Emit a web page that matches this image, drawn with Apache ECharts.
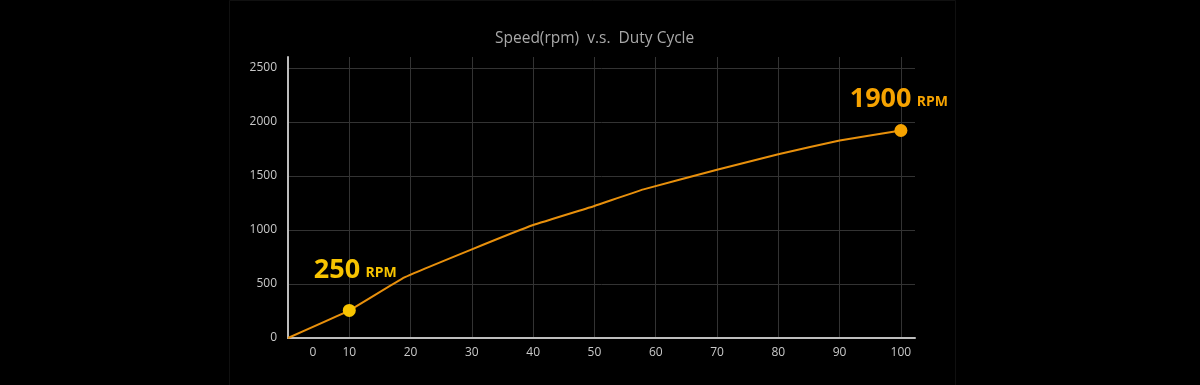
<!DOCTYPE html>
<html>
<head>
<meta charset="utf-8">
<script src="https://cdn.jsdelivr.net/npm/echarts@6/dist/echarts.min.js"></script>
<style>
html,body{margin:0;padding:0;background:#000;}
#chart{width:1200px;height:385px;}
</style>
</head>
<body>
<div id="chart"></div>
<script>
// Data
var dutyCycle = [0, 10, 19, 30, 40, 50, 58, 70, 80, 90, 100];
var speedRpm  = [0, 255, 560, 820, 1045, 1222, 1375, 1556, 1700, 1827, 1920];
var highlightIndex = [1, 10];
var highlightText  = ['250', '1900'];
var highlightColor = ['#f8c400', '#f6a300'];
var xTicks = [0, 10, 20, 30, 40, 50, 60, 70, 80, 90, 100];
var yTicks = [0, 500, 1000, 1500, 2000, 2500];
var titleText = 'Speed(rpm)  v.s.  Duty Cycle';

var lineData = dutyCycle.map(function (x, i) { return [x, speedRpm[i]]; });
var pointData = highlightIndex.map(function (idx, k) {
  return {
    value: [dutyCycle[idx], speedRpm[idx]],
    itemStyle: { color: highlightColor[k], opacity: 1 },
    label: {
      formatter: '{a|' + highlightText[k] + '} {b|RPM}',
      rich: {
        a: { fontSize: 27, fontWeight: 'bold', color: highlightColor[k], fontFamily: 'Open Sans' },
        b: { fontSize: 14, fontWeight: 'bold', color: highlightColor[k], fontFamily: 'Open Sans', padding: [6, 0, 0, 2] }
      },
      offset: k === 0 ? [6, -4] : [-2, 5]
    }
  };
});

var chart = echarts.init(document.getElementById('chart'), null, { renderer: 'canvas' });
var xSplitColors = xTicks.map(function () { return '#333'; }).concat(['rgba(0,0,0,0)']);
var ySplitColors = yTicks.map(function () { return '#333'; }).concat(['rgba(0,0,0,0)']);

chart.setOption({
  backgroundColor: '#000',
  animation: false,
  graphic: [{
    type: 'rect',
    shape: { x: 229.5, y: 0.5, width: 726, height: 400 },
    style: { fill: 'rgba(0,0,0,0)', stroke: '#101010', lineWidth: 1 },
    z: -10
  }],
  title: {
    text: titleText,
    left: 490,
    top: 26,
    textStyle: { color: '#a8a8a8', fontSize: 15.5, fontWeight: 'normal', fontFamily: 'Open Sans' }
  },
  grid: { left: 288, right: 285, top: 57, bottom: 47, containLabel: false },
  xAxis: {
    type: 'value',
    min: 0,
    max: 102.3,
    interval: 10,
    axisLine: { show: true, lineStyle: { color: '#bdbdbd', width: 2 } },
    axisTick: { show: false },
    splitLine: { show: true, lineStyle: { color: xSplitColors, width: 1 } },
    axisLabel: {
      color: '#c8c8c8',
      fontSize: 12,
      fontFamily: 'Open Sans',
      margin: 9,
      showMaxLabel: true,
      formatter: function (v) {
        if (xTicks.indexOf(v) < 0) return '';
        if (v === 0) return '{z|0}';
        return String(v);
      },
      rich: { z: { color: '#c8c8c8', fontSize: 12, fontFamily: 'Open Sans', padding: [0, 0, 0, 50] } }
    }
  },
  yAxis: {
    type: 'value',
    min: 0,
    max: 2600,
    interval: 500,
    axisLine: { show: true, lineStyle: { color: '#bdbdbd', width: 2 } },
    axisTick: { show: false },
    splitLine: { show: true, lineStyle: { color: ySplitColors, width: 1 } },
    axisLabel: {
      color: '#c8c8c8',
      fontSize: 12,
      fontFamily: 'Open Sans',
      margin: 11,
      formatter: function (v) { return yTicks.indexOf(v) < 0 ? '' : String(v); }
    }
  },
  series: [{
    type: 'line',
    data: lineData,
    showSymbol: false,
    smooth: 0.1,
    lineStyle: { color: '#e8900c', width: 2 },
    z: 3
  }, {
    type: 'scatter',
    data: pointData,
    symbolSize: 13,
    itemStyle: { opacity: 1 },
    label: { show: true, position: 'top', distance: 16 },
    z: 4
  }]
});
</script>
</body>
</html>
